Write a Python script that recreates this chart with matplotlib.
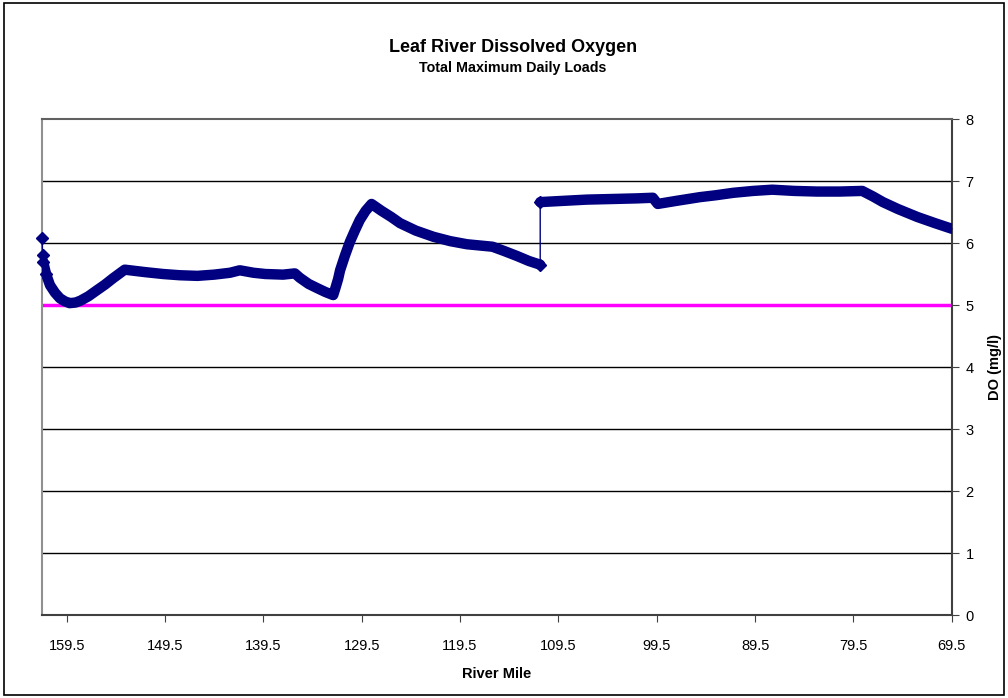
import matplotlib
matplotlib.use("Agg")
import matplotlib.pyplot as plt
from matplotlib.patches import Rectangle

plt.rcParams['font.family'] = ['Liberation Sans', 'DejaVu Sans']

# reach above the jump at ~RM 111
mile_up = [162.0, 161.95, 161.9, 161.6, 161.2, 160.7, 160.2, 159.7, 159.2, 158.6,
           158.1, 157.3, 156.5, 155.6, 154.8, 153.6, 151.5, 149.7, 148.0, 146.2,
           144.5, 142.9, 141.9, 140.5, 139.3, 137.5, 136.3, 135.8, 134.9, 134.0,
           133.2, 132.4, 132.2, 131.9, 131.7, 131.2, 130.7, 130.2, 129.7, 129.1,
           128.5, 127.5, 126.5, 125.6, 124.0, 122.2, 120.5, 118.8, 117.5, 116.2,
           115.0, 113.7, 112.5, 111.35]
do_up = [6.08, 5.81, 5.70, 5.50, 5.32, 5.20, 5.11, 5.06, 5.03, 5.04,
         5.07, 5.14, 5.23, 5.33, 5.43, 5.57, 5.53, 5.50, 5.48, 5.47,
         5.49, 5.52, 5.56, 5.52, 5.50, 5.49, 5.51, 5.44, 5.34, 5.27,
         5.21, 5.16, 5.26, 5.42, 5.56, 5.80, 6.02, 6.20, 6.37, 6.52,
         6.63, 6.52, 6.42, 6.32, 6.20, 6.10, 6.03, 5.98, 5.96, 5.94,
         5.87, 5.79, 5.71, 5.65]

# reach below the jump
mile_dn = [111.35, 109.0, 106.6, 104.0, 101.5, 99.9, 99.4, 97.5, 95.1, 93.5,
           91.7, 89.7, 87.75, 85.5, 83.2, 80.9, 78.6, 77.5, 76.5, 75.0,
           73.0, 71.2, 69.5]
do_dn = [6.66, 6.68, 6.70, 6.71, 6.72, 6.73, 6.63, 6.68, 6.74, 6.77,
         6.81, 6.84, 6.86, 6.84, 6.83, 6.83, 6.84, 6.75, 6.66, 6.55,
         6.42, 6.32, 6.23]

standard = 5.0
xticks = [159.5, 149.5, 139.5, 129.5, 119.5, 109.5, 99.5, 89.5, 79.5, 69.5]

navy = '#000080'

fig = plt.figure(figsize=(10.08, 6.98), dpi=100)
fig.patches.append(Rectangle((0.004, 0.004), 0.992, 0.991, transform=fig.transFigure,
                             fill=False, edgecolor='black', linewidth=1.2))
ax = fig.add_axes([0.0414, 0.1189, 0.9028, 0.7106])

for y in range(1, 8):
    ax.axhline(y, color='black', linewidth=1, zorder=1)
ax.axhline(standard, color='#FF00FF', linewidth=2.5, zorder=2)

# thin connecting line through every point, thick band per reach
mile_all = mile_up + mile_dn
do_all = do_up + do_dn
n = len(mile_up)
ax.plot(mile_all, do_all, color=navy, linewidth=1, marker='D', markersize=6,
        markevery=[0, 1, 2, 3, n - 1, n], clip_on=False, zorder=3)
ax.plot(mile_up[2:], do_up[2:], color=navy, linewidth=7.5, solid_joinstyle='round',
        solid_capstyle='round', zorder=4)
ax.plot(mile_dn, do_dn, color=navy, linewidth=7.5, solid_joinstyle='round',
        solid_capstyle='round', zorder=4)

ax.set_xlim(162.04, 69.5)
ax.set_ylim(0, 8)
ax.set_xticks(xticks)
ax.set_xticklabels([str(t) for t in xticks])
ax.set_yticks(range(0, 9))
ax.yaxis.tick_right()
ax.yaxis.set_label_position('right')
ax.tick_params(axis='x', direction='out', length=5, pad=12, labelsize=10.5, color='#404040')
ax.tick_params(axis='y', direction='out', length=5, pad=5, labelsize=10.5, color='#404040')

ax.spines['left'].set_color('#909090')
ax.spines['top'].set_color('#606060')
ax.spines['right'].set_color('#404040')
ax.spines['bottom'].set_color('#404040')
for s in ax.spines.values():
    s.set_linewidth(1.5)

ax.set_xlabel('River Mile', fontsize=10.5, fontweight='bold', labelpad=10)
ax.set_ylabel('DO (mg/l)', fontsize=10.5, fontweight='bold', labelpad=10)

fig.text(0.509, 0.932, 'Leaf River Dissolved Oxygen', ha='center', va='center',
         fontsize=13, fontweight='bold')
fig.text(0.509, 0.902, 'Total Maximum Daily Loads', ha='center', va='center',
         fontsize=10.3, fontweight='bold')

fig.savefig('out.png', dpi=100)
